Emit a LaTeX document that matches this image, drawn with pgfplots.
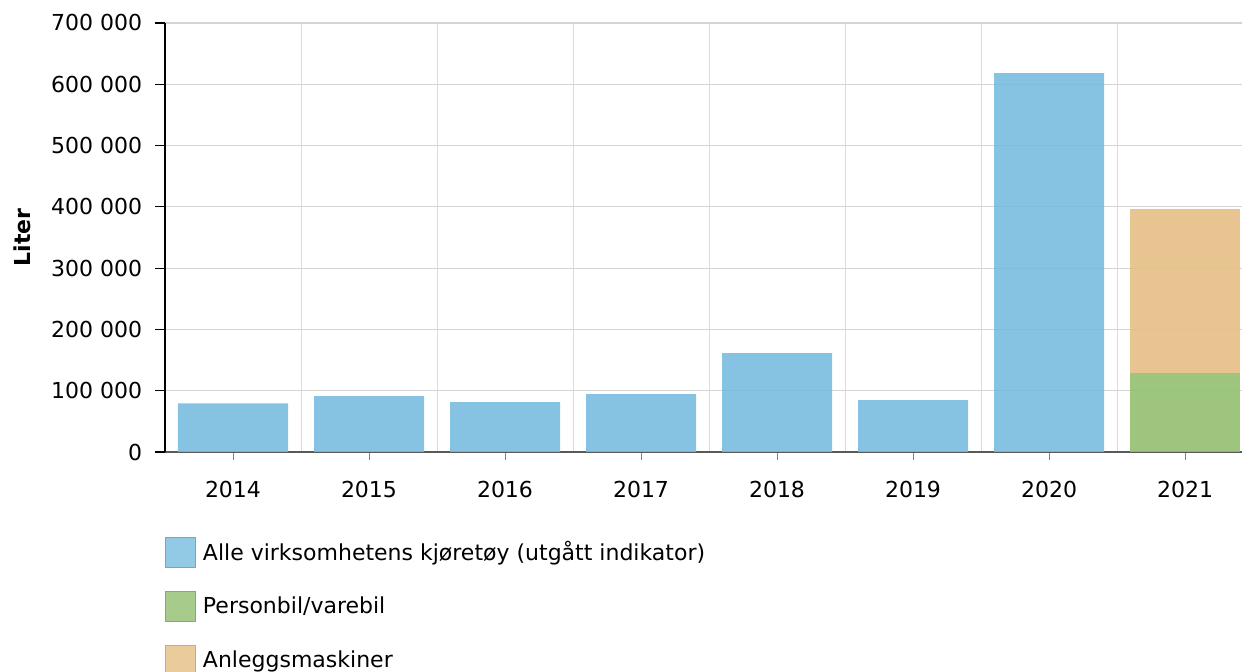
\documentclass[border=0pt]{standalone}
\usepackage{pgfplots}
\pgfplotsset{compat=1.18}
\usepackage{fontspec}
\setmainfont{DejaVu Sans}
\definecolor{cblue}{HTML}{79BCDF}
\definecolor{cgreen}{HTML}{92BF70}
\definecolor{corange}{HTML}{E5BF84}
\begin{document}
\fontsize{11}{13.2}\selectfont
\begin{tikzpicture}[x=1pt,y=1pt]
\path[use as bounding box] (-82.5,-110) rectangle (538.5,226);
\begin{axis}[
  at={(0,0)}, anchor=south west,
  width=538.5pt, height=214.5pt, scale only axis,
  xmin=-0.5, xmax=7.419, ymin=0, ymax=700000,
  ybar stacked, bar width=55pt,
  xtick={0,...,7}, xticklabels={2014,2015,2016,2017,2018,2019,2020,2021},
  ytick={0,100000,200000,300000,400000,500000,600000,700000},
  yticklabels={0,100 000,200 000,300 000,400 000,500 000,600 000,700 000},
  scaled y ticks=false,
  minor x tick num=1, minor tick length=0pt,
  xminorgrids=true, ymajorgrids=true, xmajorgrids=false,
  major grid style={color=black!17, line width=0.55pt},
  minor grid style={color=black!14, line width=0.45pt},
  axis x line*=bottom, axis y line*=left,
  x axis line style={color=black!65, line width=0.6pt, -},
  y axis line style={color=black, line width=0.65pt, -},
  tick align=outside,
  xtick style={color=black!50, line width=0.5pt, /pgfplots/major tick length=4pt},
  ytick style={color=black, line width=0.6pt, /pgfplots/major tick length=5pt},
  yticklabel style={anchor=east, inner sep=0pt, xshift=-7pt},
  xticklabel style={anchor=north, inner sep=0pt, yshift=-10pt},
  ylabel={\textbf{Liter}},
  ylabel style={at={(axis description cs:-0.1328,0.5)}, anchor=center},
  legend style={at={(0,-0.198)}, anchor=north west, draw=none, fill=none,
    inner sep=0pt, outer sep=0pt, row sep=11.5pt, column sep=1.5pt,
    nodes={inner xsep=2pt, inner ysep=0pt, anchor=west}},
  legend cell align=left,
]
\addplot[fill=cblue, draw=none, fill opacity=0.9,
  legend image code/.code={\draw[fill=cblue!90, draw=cblue!90!black, line width=0.5pt] (0pt,-7.5pt) rectangle (15pt,7.5pt);}]
  coordinates {(0,79500) (1,91300) (2,81500) (3,94600) (4,161500) (5,84800) (6,618000) (7,0)};
\addlegendentry{Alle virksomhetens kjøretøy (utgått indikator)}
\addplot[fill=cgreen, draw=none, fill opacity=0.9,
  legend image code/.code={\draw[fill=cgreen!90, draw=cgreen!90!black, line width=0.5pt] (0pt,-7.5pt) rectangle (15pt,7.5pt);}]
  coordinates {(0,0) (1,0) (2,0) (3,0) (4,0) (5,0) (6,0) (7,129400)};
\addlegendentry{Personbil/varebil}
\addplot[fill=corange, draw=none, fill opacity=0.9,
  legend image code/.code={\draw[fill=corange!90, draw=corange!90!black, line width=0.5pt] (0pt,-7.5pt) rectangle (15pt,7.5pt);}]
  coordinates {(0,0) (1,0) (2,0) (3,0) (4,0) (5,0) (6,0) (7,267000)};
\addlegendentry{Anleggsmaskiner}
\end{axis}
\end{tikzpicture}
\end{document}
